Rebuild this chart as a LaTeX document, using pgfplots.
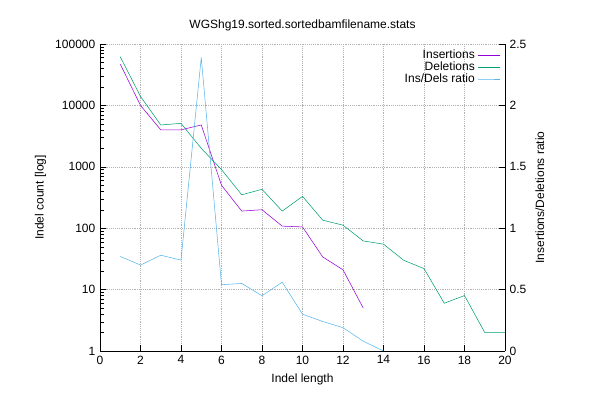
\documentclass[border=0pt]{standalone}
\usepackage{pgfplots}
\pgfplotsset{compat=1.18}
\usepackage{fontspec}
\setmainfont{Liberation Sans}
\definecolor{cins}{HTML}{9400D3}
\definecolor{cdel}{HTML}{009E73}
\definecolor{crat}{HTML}{56B4E9}
\begin{document}
\begin{tikzpicture}
\useasboundingbox (0,0) rectangle (450pt,300pt);
\pgfplotsset{every axis/.style={font=\fontsize{9}{10}\selectfont},
  /pgf/number format/assume math mode=true}
\begin{axis}[at={(75pt,36.75pt)}, anchor=south west, scale only axis,
  width=303.75pt, height=230.25pt,
  xmin=0, xmax=20, ymode=log, ymin=1, ymax=100000,
  ytick={1,10,100,1000,10000,100000},
  yticklabels={1,10,100,1000,10000,100000},
  xtick={0,2,...,20}, axis y line*=left, axis x line*=bottom,
  grid=major, grid style={gray!60, densely dotted},
  tick align=inside, tick style={black},
  xlabel={Indel length}, ylabel={Indel count [log]},
  title={WGShg19.sorted.sortedbamfilename.stats},
  legend style={at={(1,1)}, anchor=north east, draw=none, fill=none, legend plot pos=right, cells={anchor=east}, font=\fontsize{9}{10}\selectfont, row sep=-3pt},
  legend cell align=right]
\addplot[cins, thin] coordinates {(1,47000)(2,10000)(3,4000)(4,4000)(5,4800)(6,500)(7,190)(8,200)(9,108)(10,105)(11,34)(12,21)(13,5)};
\addlegendentry{Insertions}
\addplot[cdel, thin] coordinates {(1,62000)(2,14000)(3,4800)(4,5100)(5,2000)(6,900)(7,350)(8,430)(9,190)(10,330)(11,135)(12,112)(13,62)(14,55)(15,30)(16,22)(17,6)(18,8)(19,2)(20,2)};
\addlegendentry{Deletions}
\addlegendimage{crat, thin}
\addlegendentry{Ins/Dels ratio}
\end{axis}
\begin{axis}[at={(75pt,36.75pt)}, anchor=south west, scale only axis,
  width=303.75pt, height=230.25pt,
  xmin=0, xmax=20, ymin=0, ymax=2.5, axis y line*=right, axis x line=none,
  ytick={0,0.5,...,2.5}, tick align=inside, tick style={black},
  ylabel={Insertions/Deletions ratio}]
\addplot[crat, thin] coordinates {(1,0.77)(2,0.70)(3,0.78)(4,0.74)(5,2.39)(6,0.54)(7,0.55)(8,0.45)(9,0.56)(10,0.30)(11,0.24)(12,0.19)(13,0.08)(14,0)};
\end{axis}
\end{tikzpicture}
\end{document}
